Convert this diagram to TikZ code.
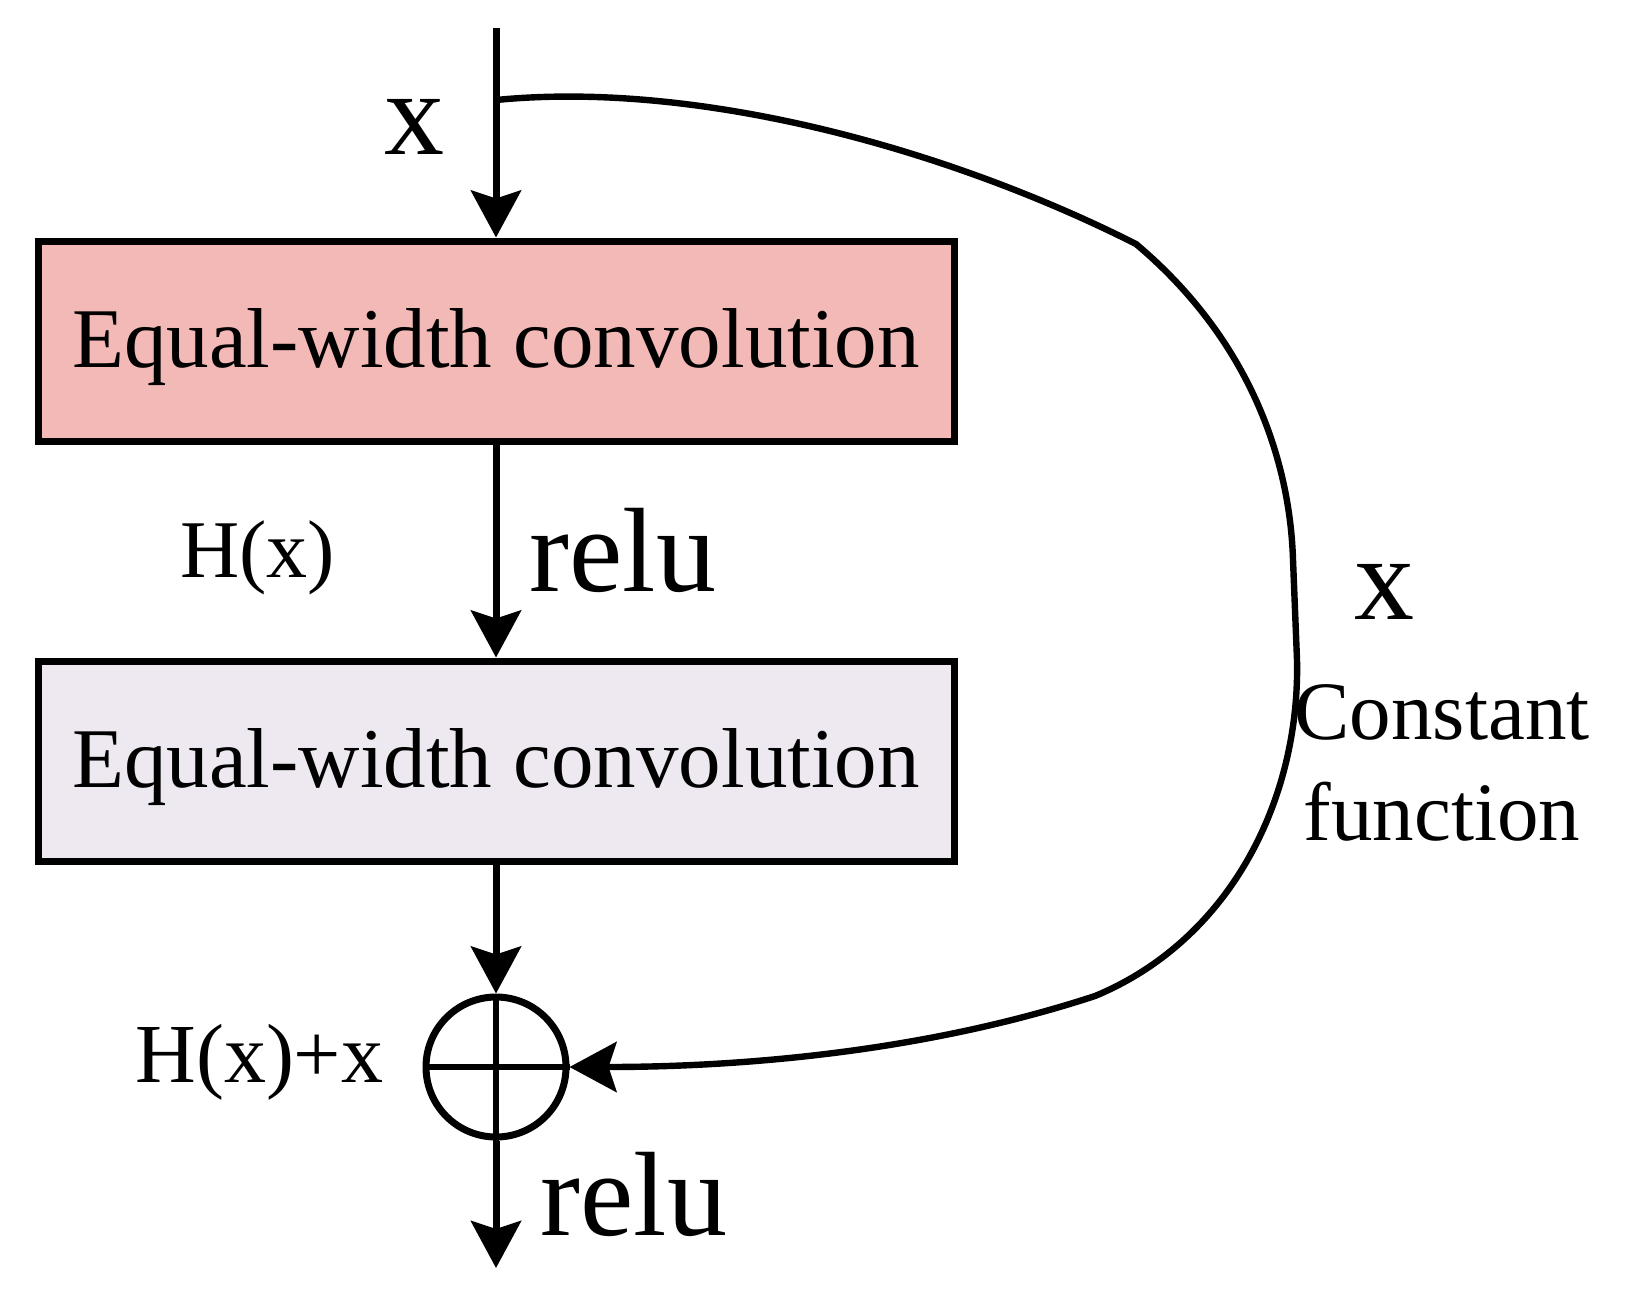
\documentclass[tikz,border=0pt]{standalone}
\usepackage{fontspec}
\setmainfont{Liberation Serif}
\usetikzlibrary{arrows.meta}
\definecolor{pinkbox}{RGB}{242,185,182}
\definecolor{lavbox}{RGB}{238,233,241}
\begin{document}
\begin{tikzpicture}[x=0.5pt,y=-0.5pt,
  conv/.style={draw, line width=3.5pt, minimum width=458pt, minimum height=100pt, inner sep=0pt, text height=36pt, text depth=9.3pt, font=\fontsize{42.5}{50}\selectfont},
  tipstyle/.style={-{Stealth[length=23.5pt,width=25pt,inset=4pt]}},
  flow/.style={line width=3.5pt, tipstyle},
  lbl/.style={inner sep=0pt, anchor=base west}]
\useasboundingbox (0,0) rectangle (1627,1301);
\node[conv, fill=pinkbox] (c1) at (496,341) {Equal-width convolution};
\node[conv, fill=lavbox] (c2) at (496,761) {Equal-width convolution};
\node[draw, circle, line width=3.5pt, minimum size=70pt, inner sep=0pt] (sum) at (496,1067) {};
\coordinate (in) at (496,28);
\coordinate (out) at (496,1268);
\coordinate (tap) at (496,100);
\coordinate (k1) at (1136,244);
\coordinate (k2) at (1293,560);
\coordinate (k3) at (1297,660);
\coordinate (k4) at (1095,996);
\draw[flow] (in) -- (c1.north);
\draw[flow] (c1.south) -- (c2.north);
\draw[flow] (c2.south) -- (sum.north);
\draw[flow] (sum.south) -- (out);
\draw[line width=3pt] (sum.north) -- (sum.south);
\draw[line width=3pt] (sum.west) -- (sum.east);
\draw[line width=3.2pt, tipstyle]
  (tap) .. controls (700,80) and (950,150) .. (k1)
  .. controls (1250,340) and (1290,460) .. (k2)
  -- (k3)
  .. controls (1300,800) and (1230,940) .. (k4)
  .. controls (900,1060) and (700,1067) .. (sum.east);
\node[lbl, font=\fontsize{60}{70}\selectfont] (xin) at (384,154) {x};
\node[lbl, font=\fontsize{41}{48}\selectfont] (hx) at (180,577) {H(x)};
\node[lbl, font=\fontsize{60}{70}\selectfont] (relu1) at (529,591) {relu};
\node[lbl, font=\fontsize{60}{70}\selectfont] (xskip) at (1354,619) {x};
\node[inner sep=0pt, anchor=base, align=center, font=\fontsize{41.5}{50.5}\selectfont] (cf) at (1442,840) {Constant\\function};
\node[lbl, font=\fontsize{42}{48}\selectfont] (hxx) at (135,1082) {H(x)+x};
\node[lbl, font=\fontsize{60}{70}\selectfont] (relu2) at (540,1235) {relu};
\end{tikzpicture}
\end{document}
